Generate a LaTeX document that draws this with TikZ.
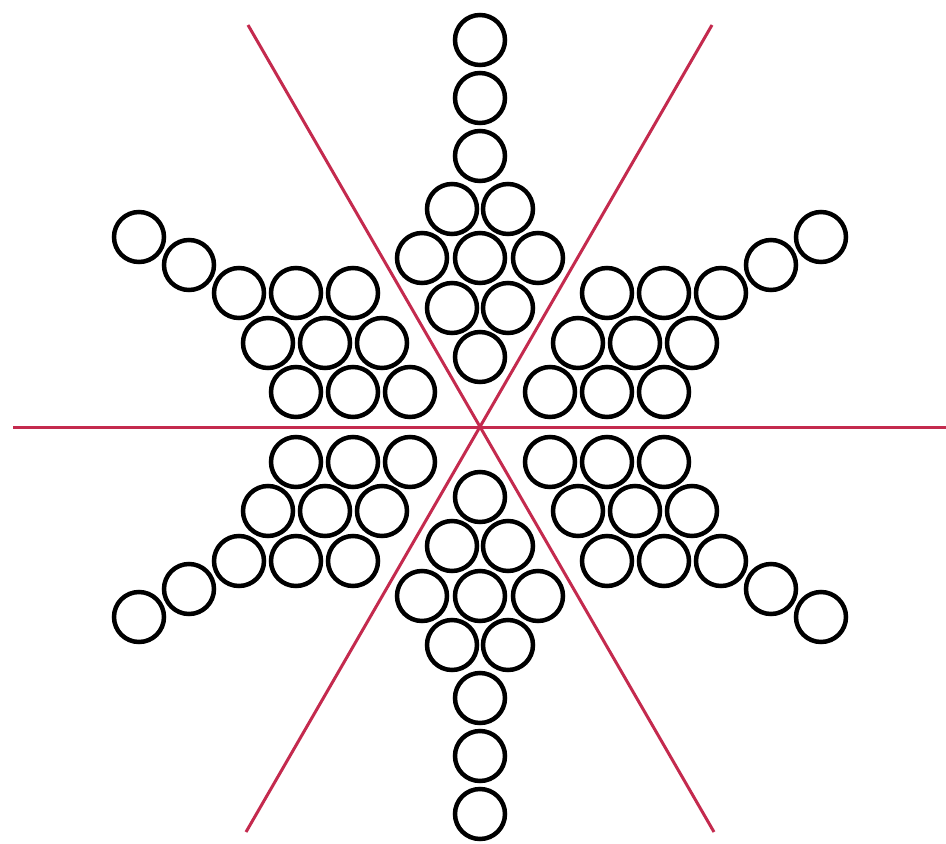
\documentclass[tikz,border=0pt]{standalone}
\definecolor{redline}{RGB}{196,42,78}
\begin{document}
\begin{tikzpicture}[x=1pt,y=-1pt,
  ring/.style={circle,draw=black,line width=4.5pt,minimum size=50pt,inner sep=0pt},
  axisline/.style={draw=redline,line width=3pt}]
\useasboundingbox (0,0) rectangle (946,844);
\fill[white] (0,0) rectangle (946,844);
\coordinate (O) at (480,427);
% vertical arms (top and bottom)
\foreach \sy in {1,-1}{
  \foreach \dx/\dy [count=\i] in {0/-70,-28/-119,28/-119,-58/-169,0/-169,58/-169,-28/-218,28/-218,0/-271,0/-329,0/-387}{
    \pgfmathsetmacro\xx{480+\dx}
    \pgfmathsetmacro\yy{427+\sy*(\dy)}
    \node[ring] (v\sy-\i) at (\xx,\yy) {};
  }
}
% side arms (four, mirrored)
\foreach \sx in {1,-1}{
  \foreach \sy in {1,-1}{
    \foreach \dx/\dy [count=\i] in {-70/-35,-127/-35,-184/-35,-98/-84,-155/-84,-212/-84,-127/-134,-184/-134,-241/-134,-291/-162,-341/-190}{
      \pgfmathsetmacro\xx{480+\sx*(\dx)}
      \pgfmathsetmacro\yy{427+\sy*(\dy)}
      \node[ring] (s\sx\sy-\i) at (\xx,\yy) {};
    }
  }
}
% red axes
\coordinate (hl) at (13,427);
\coordinate (hr) at (946,427);
\coordinate (tl) at (248,25);
\coordinate (tr) at (712,25);
\coordinate (bl) at (246,832);
\coordinate (br) at (714,832);
\draw[axisline] (hl) -- (hr);
\draw[axisline] (tl) -- (br);
\draw[axisline] (tr) -- (bl);
\end{tikzpicture}
\end{document}
